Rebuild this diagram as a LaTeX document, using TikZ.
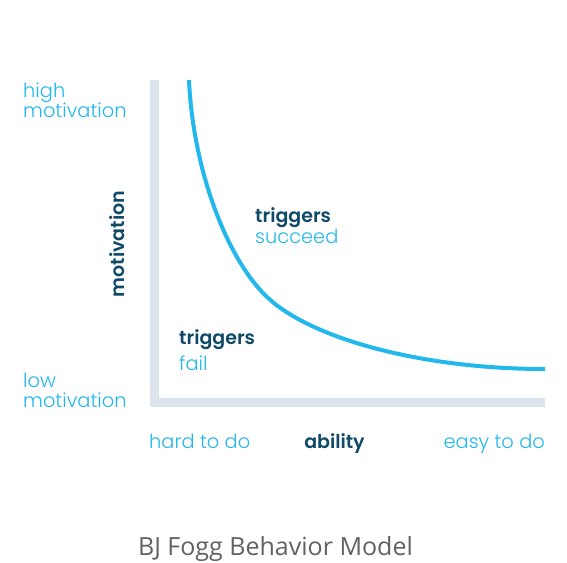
\documentclass[tikz,border=0pt]{standalone}
\usepackage{fontspec}
\usepackage{tikz}
\usetikzlibrary{positioning}
\newfontfamily\lightfont{Poppins Light}
\newfontfamily\boldfont{Poppins SemiBold}
\newfontfamily\titlefont{Open Sans}
\definecolor{fogg-sky}{HTML}{22B8EC}
\definecolor{fogg-navy}{HTML}{0F4A68}
\definecolor{fogg-mist}{HTML}{DCE5EE}
\definecolor{fogg-grey}{HTML}{626262}

\tikzset{
    softlabel/.style={inner sep=0pt, text=fogg-sky, font=\lightfont\fontsize{19.4}{21}\selectfont},
    hardlabel/.style={inner sep=0pt, text=fogg-navy, font=\boldfont\fontsize{19}{21}\selectfont},
}

\begin{document}
\begin{tikzpicture}[x=1pt, y=-1pt]

    \useasboundingbox[fill=white] (0,0) rectangle (567,562);

    % axes
    \draw[line width=9pt, color=fogg-mist] (154.5,80) -- (154.5,402) -- (545,402);

    % action line
    \draw[line width=4pt, color=fogg-sky] (189,80) .. controls (193,170) and (227,259) .. (267,297)
        .. controls (310,338) and (420,369) .. (545,369);

    % motivation labels
    \node[softlabel, anchor=base west] (high) at (23,97) {high};
    \node[softlabel, anchor=base west] (highmot) at (23,117) {motivation};
    \node[softlabel, anchor=base west] (low) at (23,387) {low};
    \node[softlabel, anchor=base west] (lowmot) at (23,407) {motivation};
    \node[hardlabel, rotate=90] (motivation) at (117,244) {motivation};

    % ability labels
    \node[softlabel, anchor=base west] (hard) at (149,448) {hard to do};
    \node[hardlabel, anchor=base] (ability) at (334.5,448) {ability};
    \node[softlabel, anchor=base east] (easy) at (545,448) {easy to do};

    % regions
    \node[hardlabel, anchor=base west] (trigok) at (255,222) {triggers};
    \node[softlabel, anchor=base west] (succeed) at (255,243) {succeed};
    \node[hardlabel, anchor=base west] (trignok) at (179,344) {triggers};
    \node[softlabel, anchor=base west] (fail) at (179,370) {fail};

    % caption
    \node[inner sep=0pt, anchor=base, text=fogg-grey, font=\titlefont\fontsize{25}{28}\selectfont] (title) at (275.5,555) {BJ Fogg Behavior Model};

\end{tikzpicture}
\end{document}
